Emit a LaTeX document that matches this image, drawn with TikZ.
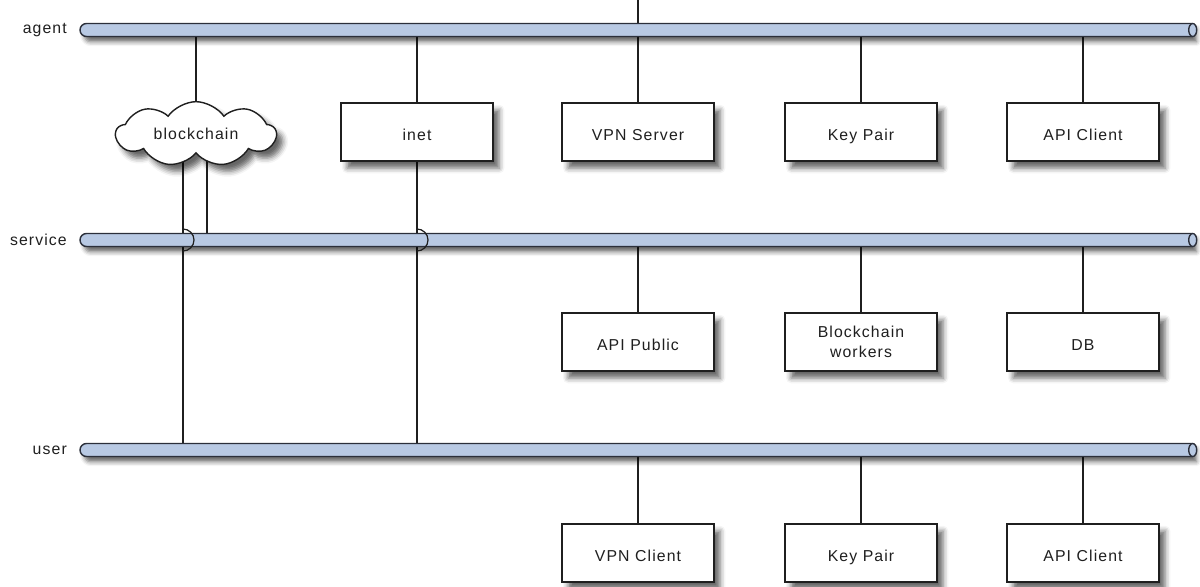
\documentclass[tikz,border=0pt]{standalone}
\usepackage{fontspec}
\usepackage{tikz}
\usetikzlibrary{calc,shapes.symbols,shapes.misc,shadows.blur}
\newfontfamily\netfont[LetterSpace=7]{Liberation Sans}
\definecolor{ink}{HTML}{1F1F1F}
\definecolor{busc}{HTML}{B8C9E3}
\definecolor{busline}{HTML}{2B2F3A}
\pgfdeclarelayer{bg}
\pgfsetlayers{bg,main}

\begin{document}
\begin{tikzpicture}[font=\netfont\fontsize{9pt}{11.5pt}\selectfont, color=ink,
  wire/.style={draw=ink, line width=0.7pt},
  netbus/.style={rounded rectangle, rounded rectangle right arc=none,
    draw=busline, fill=busc, line width=0.8pt, minimum width=22.24cm,
    minimum height=0.26cm, inner sep=0,
    blur shadow={shadow xshift=2.5pt, shadow yshift=-3pt, shadow opacity=60,
                 shadow blur radius=2.5pt}},
  hostbox/.style={rectangle, draw=ink, fill=white, line width=0.8pt,
    minimum width=3.04cm, minimum height=1.16cm, align=center,
    blur shadow={shadow xshift=3.5pt, shadow yshift=-4pt, shadow opacity=60,
                 shadow blur radius=3pt}},
  oneline/.style={text height=10pt, text depth=0pt}]

\useasboundingbox (0,0) rectangle (24,-11.72);

\def\busx{12.72}

% networks
\foreach \nm/\y in {agent/-0.60, service/-4.80, user/-9.00}{
  \node[netbus] (\nm) at (\busx,\y) {};
  \draw[draw=busline, fill=busc, line width=0.8pt]
    (\nm.east) ellipse (0.08cm and 0.13cm);
  \node[anchor=east] (\nm lbl) at (1.46,\y) {\nm};
}

% hosts
\node[cloud, cloud puffs=9, cloud puff arc=110, aspect=2.6, draw=ink,
      fill=white, line width=0.8pt, minimum width=3.2cm, minimum height=1.2cm,
      inner sep=0,
      blur shadow={shadow xshift=3.5pt, shadow yshift=-4pt, shadow opacity=60,
                   shadow blur radius=3pt}]
  (bc) at (3.92,-2.68) {blockchain};

\foreach \nm/\x/\y/\txt in {%
  inet/8.34/-2.64/{inet},
  vpnsrv/12.76/-2.64/{VPN Server},
  agkey/17.22/-2.64/{Key Pair},
  agapi/21.66/-2.64/{API Client},
  apipub/12.76/-6.84/{API Public},
  db/21.66/-6.84/{DB},
  vpncl/12.76/-11.06/{VPN Client},
  uskey/17.22/-11.06/{Key Pair},
  usapi/21.66/-11.06/{API Client}%
}{
  \node[hostbox, oneline] (\nm) at (\x,\y) {\txt};
}
\node[hostbox] (bcwork) at (17.22,-6.84) {Blockchain\\workers};

% links
\coordinate (ext) at (12.76,0);
\coordinate (bcl) at ([xshift=-0.26cm, yshift=0.25cm]bc.south);
\coordinate (bcr) at ([xshift=0.22cm, yshift=0.25cm]bc.south);

\begin{pgfonlayer}{bg}
  \draw[wire] (ext) -- (ext |- agent.north);
  \draw[wire] (bc.north) -- (bc.north |- agent.south);
  \draw[wire] (inet.north) -- (inet.north |- agent.south);
  \foreach \nm/\net in {vpnsrv/agent, agkey/agent, agapi/agent,
                        apipub/service, bcwork/service, db/service,
                        vpncl/user, uskey/user, usapi/user}{
    \draw[wire] (\nm.north) -- (\nm.north |- \net.south);
  }
  \draw[wire] (bcl) -- (bcl |- user.north);
  \draw[wire] (bcr) -- (bcr |- service.north);
  \draw[wire] (inet.south) -- (inet.south |- user.north);
\end{pgfonlayer}

% jumps over the service network
\draw[wire] ([yshift=0.22cm]bcl |- service)
  arc[start angle=90, end angle=-90, radius=0.22cm];
\draw[wire] ([yshift=0.22cm]inet.south |- service)
  arc[start angle=90, end angle=-90, radius=0.22cm];

\end{tikzpicture}
\end{document}
